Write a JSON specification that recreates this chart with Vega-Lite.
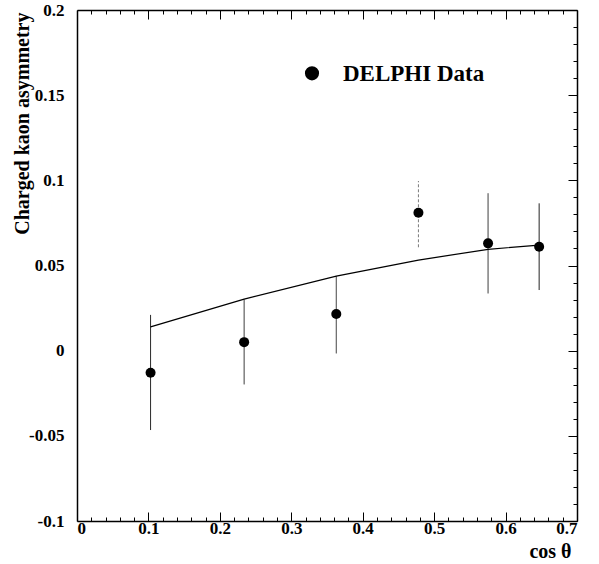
{
  "$schema": "https://vega.github.io/schema/vega-lite/v6.json",
  "width": 500,
  "height": 511,
  "autosize": {"type": "none"},
  "padding": {"left": 77, "top": 10, "right": 22, "bottom": 43},
  "background": "white",
  "config": {
    "view": {"stroke": null},
    "font": "Liberation Serif",
    "axis": {
      "grid": false,
      "domainColor": "black",
      "domainWidth": 1.5,
      "tickColor": "black",
      "tickWidth": 1,
      "labelFont": "Liberation Serif",
      "labelFontWeight": "bold",
      "labelFontSize": 17,
      "labelColor": "black",
      "titleFont": "Liberation Serif",
      "titleFontWeight": "bold",
      "titleColor": "black"
    }
  },
  "datasets": {
    "pts": [
      {"x": 0.103, "y": -0.013, "lo": -0.0466, "hi": 0.021},
      {"x": 0.234, "y": 0.005, "lo": -0.0198, "hi": 0.030},
      {"x": 0.363, "y": 0.0215, "lo": -0.0016, "hi": 0.0438},
      {"x": 0.478, "y": 0.081, "lo": 0.0607, "hi": 0.0996},
      {"x": 0.5755, "y": 0.063, "lo": 0.0336, "hi": 0.0924},
      {"x": 0.647, "y": 0.061, "lo": 0.0356, "hi": 0.0865}
    ],
    "curve": [
      {"x": 0.103, "y": 0.014},
      {"x": 0.234, "y": 0.0303},
      {"x": 0.363, "y": 0.0438},
      {"x": 0.478, "y": 0.0532},
      {"x": 0.5755, "y": 0.0595},
      {"x": 0.647, "y": 0.062}
    ],
    "legend": [
      {"x": 0.329, "y": 0.1628, "label": "DELPHI Data"}
    ]
  },
  "resolve": {"axis": {"x": "independent", "y": "independent"}},
  "layer": [
    {
      "data": {"name": "pts"},
      "mark": {"type": "rule", "strokeWidth": 1},
      "encoding": {
        "x": {
          "field": "x", "type": "quantitative",
          "scale": {"domain": [0, 0.7], "nice": false, "zero": false},
          "axis": {
            "orient": "bottom",
            "title": "cos θ",
            "titleFontSize": 20,
            "titleAlign": "right",
            "titleBaseline": "alphabetic",
            "titleX": 494,
            "titleY": 36,
            "values": [0,0.02,0.04,0.06,0.08,0.1,0.12,0.14,0.16,0.18,0.2,0.22,0.24,0.26,0.28,0.3,0.32,0.34,0.36,0.38,0.4,0.42,0.44,0.46,0.48,0.5,0.52,0.54,0.56,0.58,0.6,0.62,0.64,0.66,0.68,0.7],
            "labelExpr": "(round(datum.value*100) % 10 === 0) ? (round(datum.value*10)/10 + '') : ''",
            "labelFontSize": 17,
            "labelPadding": 8,
            "tickSize": {"condition": {"test": "round(datum.value*100) % 10 === 0", "value": -9}, "value": -4}
          }
        },
        "y": {
          "field": "lo", "type": "quantitative",
          "scale": {"domain": [-0.1, 0.2], "nice": false, "zero": false},
          "axis": {
            "orient": "left",
            "title": "Charged kaon asymmetry",
            "titleFontSize": 20,
            "titleAngle": -90,
            "titleX": -55,
            "titleY": 2,
            "titleAlign": "right",
            "titleBaseline": "middle",
            "values": [-0.1, -0.05, 0, 0.05, 0.1, 0.15, 0.2],
            "labelExpr": "datum.value + ''",
            "labelFontSize": 17,
            "labelPadding": 13,
            "ticks": false
          }
        },
        "y2": {"field": "hi"},
        "color": {"value": "#222222"},
        "strokeDash": {"condition": {"test": "datum.x > 0.45 && datum.x < 0.5", "value": [3, 2]}, "value": [1, 0]},
        "opacity": {"condition": {"test": "datum.x > 0.45 && datum.x < 0.5", "value": 0.6}, "value": 1}
      }
    },
    {
      "data": {"name": "pts"},
      "mark": {"type": "circle", "size": 100, "opacity": 1, "color": "black"},
      "encoding": {
        "x": {
          "field": "x", "type": "quantitative",
          "scale": {"domain": [0, 0.7], "nice": false, "zero": false},
          "axis": {
            "orient": "top",
            "title": null,
            "labels": false,
            "values": [0,0.02,0.04,0.06,0.08,0.1,0.12,0.14,0.16,0.18,0.2,0.22,0.24,0.26,0.28,0.3,0.32,0.34,0.36,0.38,0.4,0.42,0.44,0.46,0.48,0.5,0.52,0.54,0.56,0.58,0.6,0.62,0.64,0.66,0.68,0.7],
            "tickSize": {"condition": {"test": "round(datum.value*100) % 10 === 0", "value": -9}, "value": -4}
          }
        },
        "y": {
          "field": "y", "type": "quantitative",
          "scale": {"domain": [-0.1, 0.2], "nice": false, "zero": false},
          "axis": {
            "orient": "right",
            "title": null,
            "labels": false,
            "values": [-0.1,-0.09,-0.08,-0.07,-0.06,-0.05,-0.04,-0.03,-0.02,-0.01,0,0.01,0.02,0.03,0.04,0.05,0.06,0.07,0.08,0.09,0.1,0.11,0.12,0.13,0.14,0.15,0.16,0.17,0.18,0.19,0.2],
            "tickSize": {"condition": {"test": "round(datum.value*100) % 5 === 0", "value": -9}, "value": -4}
          }
        }
      }
    },
    {
      "data": {"name": "curve"},
      "mark": {"type": "line", "color": "black", "strokeWidth": 1.2},
      "encoding": {
        "x": {"field": "x", "type": "quantitative", "axis": null},
        "y": {"field": "y", "type": "quantitative", "axis": null}
      }
    },
    {
      "data": {"name": "legend"},
      "mark": {"type": "circle", "size": 200, "opacity": 1, "color": "black"},
      "encoding": {
        "x": {"field": "x", "type": "quantitative", "axis": null},
        "y": {"field": "y", "type": "quantitative", "axis": null}
      }
    },
    {
      "data": {"name": "legend"},
      "mark": {"type": "text", "align": "left", "baseline": "middle", "dx": 31, "dy": 1, "font": "Liberation Serif", "fontWeight": "bold", "fontSize": 23, "color": "black"},
      "encoding": {
        "x": {"field": "x", "type": "quantitative", "axis": null},
        "y": {"field": "y", "type": "quantitative", "axis": null},
        "text": {"field": "label"}
      }
    }
  ]
}
